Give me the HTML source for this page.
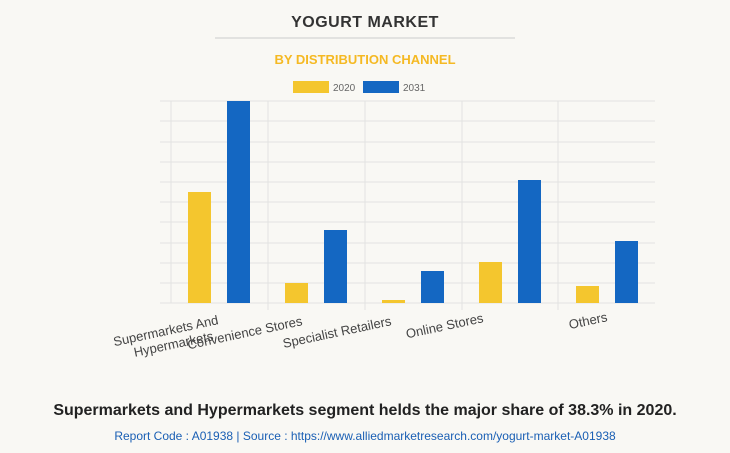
<!DOCTYPE html>
<html><head><meta charset="utf-8"><style>
body{margin:0;background:#f9f8f4;font-family:"Liberation Sans",sans-serif;}
</style></head><body>
<svg width="730" height="453" xmlns="http://www.w3.org/2000/svg" style="display:block">
<rect width="730" height="453" fill="#f9f8f4"/>
<text x="365" y="27" text-anchor="middle" font-size="16" font-weight="bold" fill="#333" letter-spacing="0.5">YOGURT MARKET</text>
<line x1="215" y1="38" x2="515" y2="38" stroke="#ccc"/>
<text x="365" y="64" text-anchor="middle" font-size="13" font-weight="bold" fill="#f5b923">BY DISTRIBUTION CHANNEL</text>
<rect x="293" y="81" width="36" height="12" fill="#f4c62e"/>
<text x="333" y="91" font-size="10" fill="#666">2020</text>
<rect x="363" y="81" width="36" height="12" fill="#1467c2"/>
<text x="403" y="91" font-size="10" fill="#666">2031</text>
<g stroke="#e2e2e2" stroke-width="1">
<line x1="160" y1="101" x2="655" y2="101"/><line x1="160" y1="121" x2="655" y2="121"/>
<line x1="160" y1="142" x2="655" y2="142"/><line x1="160" y1="162" x2="655" y2="162"/>
<line x1="160" y1="182" x2="655" y2="182"/><line x1="160" y1="202" x2="655" y2="202"/>
<line x1="160" y1="222" x2="655" y2="222"/><line x1="160" y1="243" x2="655" y2="243"/>
<line x1="160" y1="263" x2="655" y2="263"/><line x1="160" y1="283" x2="655" y2="283"/>
<line x1="160" y1="303" x2="655" y2="303"/>
<line x1="171" y1="101" x2="171" y2="303"/><line x1="268" y1="101" x2="268" y2="310"/>
<line x1="365" y1="101" x2="365" y2="310"/><line x1="462" y1="101" x2="462" y2="310"/>
<line x1="558" y1="101" x2="558" y2="310"/>
</g>
<g fill="#f4c62e">
<rect x="188" y="192" width="23" height="111"/>
<rect x="285" y="283" width="23" height="20"/>
<rect x="382" y="300" width="23" height="3"/>
<rect x="479" y="262" width="23" height="41"/>
<rect x="576" y="286" width="23" height="17"/>
</g>
<g fill="#1467c2">
<rect x="227" y="101" width="23" height="202"/>
<rect x="324" y="230" width="23" height="73"/>
<rect x="421" y="271" width="23" height="32"/>
<rect x="518" y="180" width="23" height="123"/>
<rect x="615" y="241" width="23" height="62"/>
</g>
<g font-size="13" fill="#444" text-anchor="end">
<text transform="translate(219,324) rotate(-12)">Supermarkets And</text>
<text transform="translate(214,340) rotate(-12)">Hypermarkets</text>
<text transform="translate(303,325) rotate(-12)">Convenience Stores</text>
<text transform="translate(392,325) rotate(-12)">Specialist Retailers</text>
<text transform="translate(484,322) rotate(-12)">Online Stores</text>
<text transform="translate(608,321) rotate(-12)">Others</text>
</g>
<text x="365" y="415" text-anchor="middle" font-size="16" font-weight="bold" fill="#222">Supermarkets and Hypermarkets segment helds the major share of 38.3% in 2020.</text>
<text x="365" y="440" text-anchor="middle" font-size="12" fill="#1a5fb4">Report Code : A01938  |  Source : https://www.alliedmarketresearch.com/yogurt-market-A01938</text>
</svg>
</body></html>
